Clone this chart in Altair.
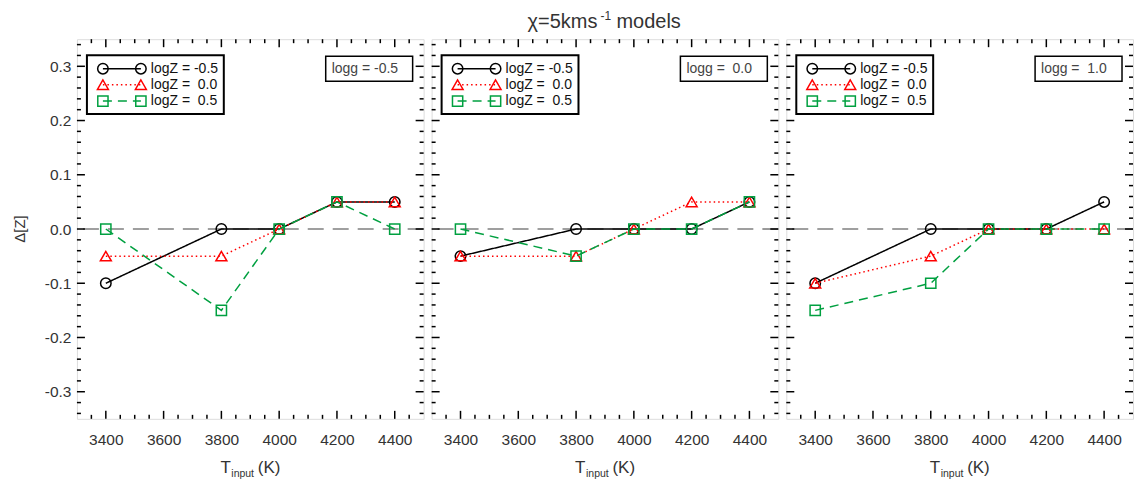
import altair as alt
import numpy as np
import pandas as pd

# ---------------- data ----------------
T_INPUT = [3400, 3800, 4000, 4200, 4400]
LOGG_LABELS = ["logg = -0.5", "logg =\u00a0 0.0", "logg =\u00a0 1.0"]
LOGZ_LABELS = ["logZ = -0.5", "logZ =\u00a0 0.0", "logZ =\u00a0 0.5"]

# logg = -0.5 panel
DZ_G1_ZM05 = [-0.10, 0.00, 0.00, 0.05, 0.05]
DZ_G1_Z00 = [-0.05, -0.05, 0.00, 0.05, 0.05]
DZ_G1_Z05 = [0.00, -0.15, 0.00, 0.05, 0.00]
# logg = 0.0 panel
DZ_G2_ZM05 = [-0.05, 0.00, 0.00, 0.00, 0.05]
DZ_G2_Z00 = [-0.05, -0.05, 0.00, 0.05, 0.05]
DZ_G2_Z05 = [0.00, -0.05, 0.00, 0.00, 0.05]
# logg = 1.0 panel
DZ_G3_ZM05 = [-0.10, 0.00, 0.00, 0.00, 0.05]
DZ_G3_Z00 = [-0.10, -0.05, 0.00, 0.00, 0.00]
DZ_G3_Z05 = [-0.15, -0.10, 0.00, 0.00, 0.00]

PANELS = [
    [DZ_G1_ZM05, DZ_G1_Z00, DZ_G1_Z05],
    [DZ_G2_ZM05, DZ_G2_Z00, DZ_G2_Z05],
    [DZ_G3_ZM05, DZ_G3_Z00, DZ_G3_Z05],
]

X_TICK_LABELS = [3400, 3600, 3800, 4000, 4200, 4400]
Y_TICK_LABELS = [-0.3, -0.2, -0.1, 0.0, 0.1, 0.2, 0.3]

# ---------------- styling ----------------
COLORS = ["#000000", "#ff0000", "#00a040"]
DASHES = [[1, 0], [1.5, 3], [9, 6]]
SHAPES = ["circle", "triangle-up", "square"]
SIZES = [110, 120, 105]
FONT = "Liberation Sans"
W, H = 347, 380
MAJ, MIN = 8, 4

xs = alt.Scale(domain=[3300, 4500], nice=False, zero=False)
ys = alt.Scale(domain=[-0.35, 0.35], nice=False, zero=False)
ONE = pd.DataFrame({"z": [0.0]})

x_major = list(range(3400, 4401, 200))
x_minor = [v for v in range(3350, 4500, 50) if v not in x_major]
y_major = [round(k * 0.02, 2) for k in range(-17, 18) if k % 5 == 0]
y_minor = [round(k * 0.02, 2) for k in range(-17, 18) if k % 5 != 0]


def make_axes(idx):
    xaxis = alt.Axis(values=X_TICK_LABELS, ticks=False, tickSize=0, domain=False, grid=False,
                     labelFontSize=15.5, labelColor="#333333", labelFont=FONT,
                     labelPadding=14, title=None, format="d")
    if idx == 0:
        yaxis = alt.Axis(values=Y_TICK_LABELS, ticks=False, tickSize=0, domain=False, grid=False,
                         labelFontSize=15.5, labelColor="#333333", labelFont=FONT,
                         labelPadding=6, title=None,
                         labelExpr="replace(format(datum.value, '.1f'), '\u2212', '-')")
    else:
        yaxis = None
    return xaxis, yaxis


def tick_layers(xaxis, yaxis):
    out = []
    for vals, L in ((x_major, MAJ), (x_minor, MIN)):
        d = pd.DataFrame({"v": vals})
        base = alt.Chart(d).mark_rule(color="black", strokeWidth=1.5)
        out.append(base.encode(x=alt.X("v:Q", scale=xs, axis=xaxis),
                               y=alt.value(H), y2=alt.value(H - L)))
        out.append(base.encode(x=alt.X("v:Q", scale=xs, axis=xaxis),
                               y=alt.value(0), y2=alt.value(L)))
    for vals, L in ((y_major, MAJ), (y_minor, MIN)):
        d = pd.DataFrame({"v": vals})
        base = alt.Chart(d).mark_rule(color="black", strokeWidth=1.5)
        out.append(base.encode(y=alt.Y("v:Q", scale=ys, axis=yaxis),
                               x=alt.value(0), x2=alt.value(L)))
        out.append(base.encode(y=alt.Y("v:Q", scale=ys, axis=yaxis),
                               x=alt.value(W), x2=alt.value(W - L)))
    return out


def txt(text, x, y, size, color="#000000", align="left", baseline="middle", angle=None):
    kw = dict(text=text, fontSize=size, font=FONT, color=color, align=align, baseline=baseline)
    if angle is not None:
        kw["angle"] = angle
    return alt.Chart(ONE).mark_text(**kw).encode(x=alt.value(x), y=alt.value(y))


def panel(idx):
    layers = []
    xaxis, yaxis = make_axes(idx)

    # zero reference line
    layers.append(alt.Chart(ONE).mark_rule(color="#808080", strokeDash=[16, 9], strokeWidth=1.6)
                  .encode(y=alt.Y("z:Q", scale=ys, axis=yaxis)))
    layers += tick_layers(xaxis, yaxis)

    for s in range(3):
        df = pd.DataFrame({"T": T_INPUT, "dZ": PANELS[idx][s]})
        enc = dict(x=alt.X("T:Q", scale=xs, axis=xaxis),
                   y=alt.Y("dZ:Q", scale=ys, axis=yaxis))
        layers.append(alt.Chart(df).mark_line(color=COLORS[s], strokeDash=DASHES[s], strokeWidth=1.5)
                      .encode(**enc))
        layers.append(alt.Chart(df).mark_point(shape=SHAPES[s], filled=False, color=COLORS[s],
                                               size=SIZES[s], strokeWidth=1.5, opacity=1)
                      .encode(**enc))

    # legend box
    layers.append(alt.Chart(ONE).mark_rect(fill="white", stroke="black", strokeWidth=2)
                  .encode(x=alt.value(10), x2=alt.value(147), y=alt.value(16), y2=alt.value(75)))
    rows = [29.5, 45.5, 62]
    for s in range(3):
        yy = rows[s]
        layers.append(alt.Chart(ONE).mark_rule(color=COLORS[s], strokeDash=DASHES[s], strokeWidth=1.5)
                      .encode(x=alt.value(26), x2=alt.value(64), y=alt.value(yy)))
        for xx in (26, 64):
            layers.append(alt.Chart(ONE).mark_point(shape=SHAPES[s], filled=False, color=COLORS[s],
                                                    size=SIZES[s], strokeWidth=1.5, opacity=1)
                          .encode(x=alt.value(xx), y=alt.value(yy)))
        layers.append(txt(LOGZ_LABELS[s], 74, yy, 14, color="#111111"))

    # logg box
    layers.append(alt.Chart(ONE).mark_rect(fill="white", stroke="black", strokeWidth=1.5)
                  .encode(x=alt.value(249), x2=alt.value(336), y=alt.value(17), y2=alt.value(42)))
    layers.append(txt(LOGG_LABELS[idx], 255, 29.5, 14, color="#444444"))

    # x-axis title: T_input (K)
    layers.append(txt("T", 154, 434, 17, color="#333333", align="right", baseline="alphabetic"))
    layers.append(txt("input", 154.5, 438, 10.5, color="#333333", baseline="alphabetic"))
    layers.append(txt("(K)", 181, 434, 17, color="#333333", baseline="alphabetic"))

    if idx == 0:
        layers.append(txt("\u0394[Z]", -57, 190, 15, color="#333333", align="center", angle=270))
        # invisible anchor fixing the top-left corner of the figure
        layers.append(alt.Chart(ONE).mark_rule(color="white", opacity=0)
                      .encode(x=alt.value(-76), x2=alt.value(-75), y=alt.value(-38), y2=alt.value(-37)))
    if idx == 1:
        layers.append(txt("\u03c7=5kms", 166, -11.5, 20, color="#333333", align="right", baseline="alphabetic"))
        layers.append(txt("-1", 169, -19.5, 12, color="#333333", baseline="alphabetic"))
        layers.append(txt("models", 185, -11.5, 20, color="#333333", baseline="alphabetic"))

    return alt.layer(*layers).properties(width=W, height=H)


chart = alt.hconcat(panel(0), panel(1), panel(2), spacing=8, bounds="flush").properties(
    padding=0
).configure_view(stroke="black", strokeWidth=2).configure(background="white")

chart.save("out.html", embed_options={"renderer": "svg", "actions": False})
